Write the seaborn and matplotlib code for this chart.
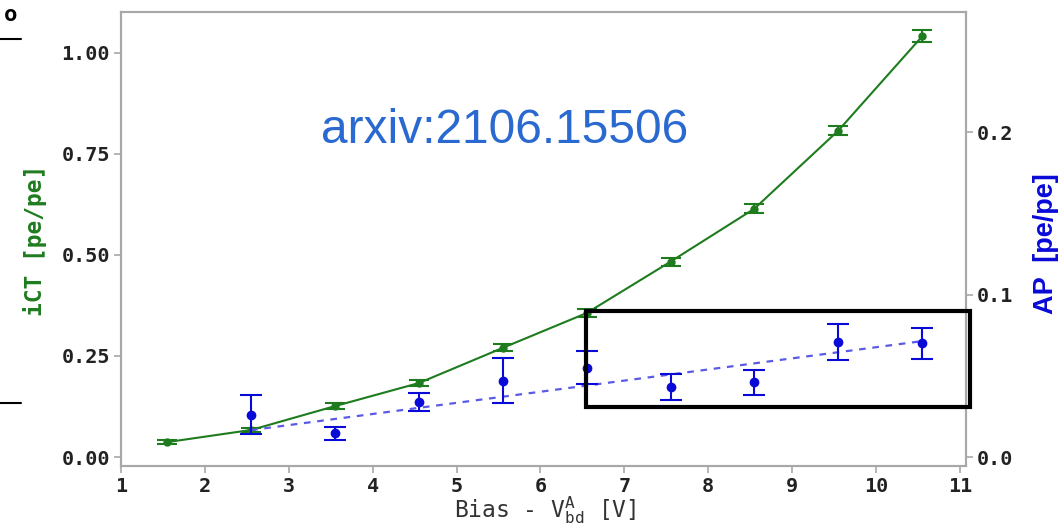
import numpy as np
import pandas as pd
import seaborn as sns
import matplotlib.pyplot as plt
from matplotlib.patches import Rectangle

# data
bias = [1.55, 2.55, 3.55, 4.55, 5.55, 6.55, 7.55, 8.55, 9.55, 10.55]
ict = [0.037, 0.067, 0.126, 0.183, 0.27, 0.356, 0.483, 0.614, 0.807, 1.04]
ict_err = [0.005, 0.006, 0.007, 0.008, 0.009, 0.010, 0.010, 0.011, 0.012, 0.015]

ap_bias = [2.55, 3.55, 4.55, 5.55, 6.55, 7.55, 8.55, 9.55, 10.55]
ap = [0.026, 0.0148, 0.034, 0.047, 0.055, 0.043, 0.046, 0.071, 0.070]
ap_err = [0.012, 0.004, 0.0055, 0.014, 0.010, 0.008, 0.0077, 0.011, 0.0095]

# linear fit line of AP (end points)
ap_fit_bias = [2.55, 10.55]
ap_fit = [0.0166, 0.0714]

x_ticks = list(range(1, 12))
ict_ticks = [0.0, 0.25, 0.5, 0.75, 1.0]
ap_ticks = [0.0, 0.1, 0.2]

green = '#1e7b1e'
blue = '#0a0ad8'
blue_fit = '#5a5ae6'
grey = '#a8a8a8'

sns.set_style('white')
plt.rcParams['font.family'] = ['DejaVu Sans Mono', 'DejaVu Sans']
plt.rcParams['mathtext.fontset'] = 'custom'
plt.rcParams['mathtext.rm'] = 'DejaVu Sans Mono'

fig = plt.figure(figsize=(10.59, 5.24), dpi=100)
ax = fig.add_axes([0.1143, 0.1107, 0.7977, 0.8663])
ax2 = ax.twinx()

df_ict = pd.DataFrame({'bias': bias, 'ict': ict})
sns.lineplot(data=df_ict, x='bias', y='ict', color=green, lw=1.5, ax=ax)
ax.errorbar(bias, ict, yerr=ict_err, fmt='o', color=green, ms=5,
            capsize=7, elinewidth=1.5, capthick=1.5, zorder=3)

df_fit = pd.DataFrame({'bias': ap_fit_bias, 'ap': ap_fit})
sns.lineplot(data=df_fit, x='bias', y='ap', color=blue_fit, lw=1.6,
             linestyle=(0, (3, 3)), ax=ax2)
ax2.errorbar(ap_bias, ap, yerr=ap_err, fmt='o', color=blue, ms=6,
             capsize=8, elinewidth=1.5, capthick=1.5, zorder=3)

ax.set_xlim(1, 11.07)
ax.set_ylim(-0.022, 1.10)
ax2.set_ylim(-0.0055, 0.274)

ax.set_xticks(x_ticks)
ax.set_xticklabels([str(t) for t in x_ticks])
ax.set_yticks(ict_ticks)
ax.set_yticklabels([f'{t:.2f}' for t in ict_ticks])
ax2.set_yticks(ap_ticks)
ax2.set_yticklabels([f'{t:.1f}' for t in ap_ticks])

for a in (ax, ax2):
    for s in a.spines.values():
        s.set_color(grey)
        s.set_linewidth(1.5)
    a.tick_params(labelcolor='#222222', labelsize=14.5, length=5, width=1.2,
                  direction='out', color=grey, pad=3)
    for lab in a.get_xticklabels() + a.get_yticklabels():
        lab.set_fontweight('bold')
ax.tick_params(axis='both', bottom=True, left=True)
ax2.tick_params(axis='y', right=True)

ax.set_xlabel(r'Bias - $\mathregular{V_{bd}^{A}}$ [V]', fontsize=16.5,
              color='#333333')
ax.xaxis.set_label_coords(0.502, -0.062)
ax.set_ylabel('iCT [pe/pe]', fontsize=16.5, color=green, fontweight='bold')
ax.yaxis.set_label_coords(-0.088, 0.497)
ax2.set_ylabel('AP  [pe/pe]', fontsize=19.5, color=blue, fontweight='bold',
               family='Liberation Sans')
ax2.yaxis.set_label_coords(1.079, 0.49)

ax2.add_patch(Rectangle((6.54, 0.0308), 4.58, 0.059, fill=False,
                        edgecolor='black', lw=3, clip_on=False, zorder=5))

ax.text(0.454, 0.74, 'arxiv:2106.15506', transform=ax.transAxes,
        ha='center', va='center', fontsize=34.5, color='#2a6ad0',
        family='Liberation Sans')

# fragments of the neighbouring panel at the left edge
fig.text(0.004, 0.96, 'o', fontsize=16, fontweight='bold', color='black')
fig.add_artist(plt.Line2D([0, 0.02], [0.925, 0.925], color='black', lw=1.5))
fig.add_artist(plt.Line2D([0, 0.02], [0.231, 0.231], color='black', lw=1.5))

fig.savefig('out.png', dpi=100)
